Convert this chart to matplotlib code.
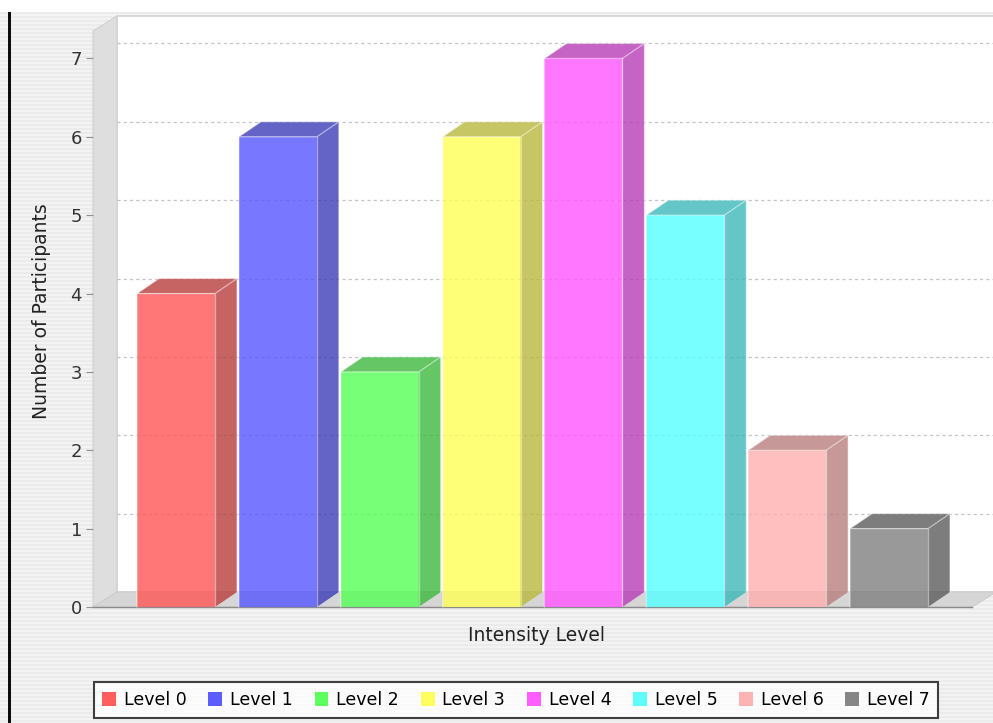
import matplotlib
matplotlib.use("Agg")
import matplotlib.pyplot as plt
from matplotlib.patches import Polygon, Rectangle, Patch
import numpy as np

# participants per intensity level
levels = ["Level 0", "Level 1", "Level 2", "Level 3", "Level 4", "Level 5", "Level 6", "Level 7"]
counts = [4, 6, 3, 6, 7, 5, 2, 1]
colors = ["#ff5555", "#5555ff", "#55ff55", "#ffff55", "#ff55ff", "#55ffff", "#ffafaf", "#808080"]
yticks = [0, 1, 2, 3, 4, 5, 6, 7]

W, H = 993, 723
fig = plt.figure(figsize=(W / 100, H / 100), dpi=100)
fig.patch.set_alpha(0)

# striped aqua-style background, white strip on top, dark rule on the left
bg = np.ones((H, W, 3))
rows = np.arange(H)
shade = np.where((rows // 2) % 2 == 0, 0.925, 0.955)
bg[:, :, :] = shade[:, None, None]
bg[:12, :, :] = 1.0
bg[12:, 8:11, :] = 0.05
im = fig.figimage(bg, xo=0, yo=0, origin="upper")
im.set_zorder(-10)

# front plane of the plot in pixels
left, right, bottom, top = 93, 972, 607, 31
ax = fig.add_axes([left / W, 1 - bottom / H, (right - left) / W, (bottom - top) / H])
ax.set_facecolor("none")
xmin, xmax = -0.815, len(levels) - 0.185
ymax = 7.35
ax.set_xlim(xmin, xmax)
ax.set_ylim(0, ymax)

ux = (right - left) / (xmax - xmin)   # px per category
uy = (bottom - top) / ymax            # px per unit
wdx, wdy = 24 / ux, 15 / uy           # wall depth
bdx, bdy = 22 / ux, 15 / uy           # bar depth

# left wall, floor and back wall
ax.add_patch(Polygon([(xmin, 0), (xmin + wdx, wdy), (xmin + wdx, ymax + wdy), (xmin, ymax)],
                     closed=True, facecolor="#dedede", edgecolor="#d0d0d0", lw=0.8, clip_on=False, zorder=1))
ax.add_patch(Polygon([(xmin, 0), (xmax, 0), (xmax + wdx, wdy), (xmin + wdx, wdy)],
                     closed=True, facecolor="#d6d6d6", edgecolor="#cccccc", lw=0.8, clip_on=False, zorder=1))
ax.add_patch(Rectangle((xmin + wdx, wdy), xmax - xmin, ymax, facecolor="white",
                       edgecolor="#d4d4d4", lw=1.2, clip_on=False, zorder=0.5))
for t in yticks[1:]:
    ax.plot([xmin + wdx, xmax + wdx], [t + wdy, t + wdy], color="#c4c4c4", lw=0.9,
            ls=(0, (2.5, 2.5)), clip_on=False, zorder=1.5)
ax.plot([xmin, xmax], [0, 0], color="#8a8a8a", lw=1.0, clip_on=False, zorder=1.6)

# 3D bars
bw = 78 / ux
alpha = 0.8
edge = (1, 1, 1, 0.45)
for i, (v, c) in enumerate(zip(counts, colors)):
    rgb = np.array(matplotlib.colors.to_rgb(c))
    dark = rgb * 0.72
    x0, x1 = i - bw / 2, i + bw / 2
    ax.bar(i, v, width=bw, color=c, alpha=alpha, edgecolor="none", zorder=3)
    ax.add_patch(Polygon([(x1, 0), (x1 + bdx, bdy), (x1 + bdx, v + bdy), (x1, v)], closed=True,
                         facecolor=dark, alpha=alpha, edgecolor="none", zorder=3, clip_on=False))
    ax.add_patch(Polygon([(x0, v), (x1, v), (x1 + bdx, v + bdy), (x0 + bdx, v + bdy)], closed=True,
                         facecolor=dark, alpha=alpha, edgecolor="none", zorder=3, clip_on=False))
    ax.plot([x0, x0, x1, x1 + bdx, x1 + bdx], [0, v, v, v + bdy, bdy], color=edge, lw=0.9,
            zorder=3.5, clip_on=False)
    ax.plot([x0, x0 + bdx, x1 + bdx], [v, v + bdy, v + bdy], color=edge, lw=0.9,
            zorder=3.5, clip_on=False)
    ax.plot([x1, x1], [0, v], color=edge, lw=0.9, zorder=3.5)

for s in ax.spines.values():
    s.set_visible(False)
ax.set_xticks([])
ax.set_yticks(yticks)
ax.tick_params(axis="y", length=5, width=0.8, color="#909090", labelsize=13, labelcolor="#333333", pad=3)

ax.set_ylabel("Number of Participants", fontsize=13.5, color="#222222")
ax.yaxis.set_label_coords((51 - left) / (right - left), (bottom - 311) / (bottom - top))
ax.set_xlabel("Intensity Level", fontsize=13.5, color="#222222")
ax.xaxis.set_label_coords((536 - left) / (right - left), (bottom - 626) / (bottom - top))

handles = [Patch(facecolor=c, edgecolor="none", alpha=0.95) for c in colors]
leg = fig.legend(handles, levels, loc="center", bbox_to_anchor=(516 / W, 1 - 700 / H), ncol=len(levels),
                 fontsize=12.5, frameon=True, fancybox=False, handlelength=0.8, handleheight=0.8,
                 handletextpad=0.45, columnspacing=1.25, borderpad=0.5, borderaxespad=0)
leg.get_frame().set_edgecolor("#111111")
leg.get_frame().set_linewidth(1.5)
leg.get_frame().set_facecolor("white")

fig.savefig("out.png", dpi=100)
